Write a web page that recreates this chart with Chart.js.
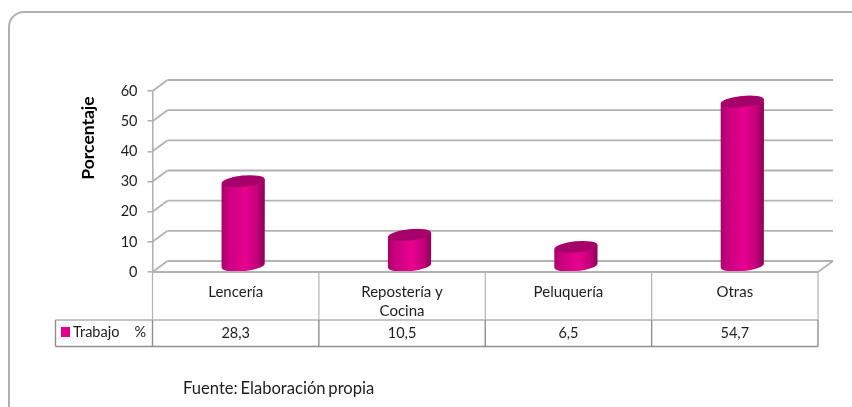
<!DOCTYPE html>
<html lang="es">
<head>
<meta charset="utf-8">
<style>
  html, body { margin: 0; padding: 0; background: #fff; overflow: hidden; }
  #wrap { position: relative; width: 852px; height: 407px; overflow: hidden; }
  #frame { position: absolute; left: 8px; top: 11px; width: 900px; height: 430px; box-sizing: border-box;
    border: 2px solid #b0b0b0; border-radius: 16px 0 0 0; }
  #c { position: absolute; left: 0; top: 0; }
</style>
</head>
<body>
<div id="wrap">
  <div id="frame"></div>
  <canvas id="c" width="852" height="407"></canvas>
</div>
<script src="https://cdn.jsdelivr.net/npm/chart.js@4"></script>
<script>
'use strict';

const categories = ['Lencería', ['Repostería y', 'Cocina'], 'Peluquería', 'Otras'];
const values = [28.3, 10.5, 6.5, 54.7];
const tableLabels = ['28,3', '10,5', '6,5', '54,7'];
const seriesName = 'Trabajo';
const seriesUnit = '%';
const axisTitle = 'Porcentaje';
const sourceNote = 'Fuente: Elaboración propia';

const FONT = 'Lato, "Open Sans", sans-serif';
const GRID = '#b2b2b2';
const TABLE = '#8f8f8f';
const TEXT = '#1e1e1e';
const PINK = '#e0008c';
const DX = 15, DY = 11;       // depth of the 3d box
const BAR_DX = 7.5, BAR_DY = 5.5; // bars stand in the middle of that depth
const ROW_TOP = 320, ROW_BOTTOM = 346.5, ROW_LEFT = 55.5;

const line = (ctx, x1, y1, x2, y2) => {
  ctx.beginPath();
  ctx.moveTo(x1, y1);
  ctx.lineTo(x2, y2);
  ctx.stroke();
};

// ---------- 3d walls ----------
const wallPlugin = {
  id: 'walls',
  beforeDatasetsDraw(chart) {
    const { ctx, chartArea: a, scales: { y } } = chart;
    ctx.save();
    ctx.strokeStyle = GRID;
    ctx.lineWidth = 1.8;
    y.ticks.forEach((t) => {
      const py = y.getPixelForValue(t.value);
      line(ctx, a.left, py, a.left + DX, py - DY);
      line(ctx, a.left + DX, py - DY, a.right + DX, py - DY);
    });
    line(ctx, a.right, a.bottom, a.right + DX, a.bottom - DY);
    ctx.restore();
  },
};

// ---------- cylinders, read from the bar elements ----------
const cylinderPlugin = {
  id: 'cylinders',
  afterDatasetsDraw(chart) {
    const { ctx } = chart;
    chart.getDatasetMeta(0).data.forEach((bar) => {
      const w = bar.width;
      const left = bar.x - w / 2 + BAR_DX;
      const right = left + w;
      const cx = left + w / 2;
      const top = bar.y - BAR_DY;
      const bottom = bar.base - BAR_DY;
      const rx = w / 2, ry = 5.6, tilt = -0.1;
      const grad = ctx.createLinearGradient(left, 0, right, 0);
      grad.addColorStop(0, '#a8006a');
      grad.addColorStop(0.15, '#c8007e');
      grad.addColorStop(0.55, '#e8008f');
      grad.addColorStop(0.82, '#c4007a');
      grad.addColorStop(1, '#8a0056');
      ctx.save();
      ctx.fillStyle = grad;
      ctx.beginPath();
      ctx.moveTo(left, top + 2);
      ctx.lineTo(left, bottom + 2);
      ctx.ellipse(cx, bottom, rx, ry, tilt, Math.PI, 0, true);
      ctx.lineTo(right, top - 2);
      ctx.closePath();
      ctx.fill();
      ctx.fillStyle = '#a6006a';
      ctx.beginPath();
      ctx.ellipse(cx, top, rx, ry, tilt, 0, Math.PI * 2);
      ctx.fill();
      ctx.restore();
    });
  },
};

// ---------- data table and the loose texts ----------
const tablePlugin = {
  id: 'dataTable',
  afterDraw(chart) {
    const { ctx, chartArea: a, scales: { x } } = chart;
    const step = (a.right - a.left) / categories.length;
    ctx.save();
    ctx.strokeStyle = GRID;
    ctx.lineWidth = 1.2;
    for (let i = 0; i <= categories.length; i++) {
      const px = a.left + step * i;
      line(ctx, px, a.bottom, px, ROW_TOP);
    }
    ctx.lineWidth = 2;
    line(ctx, a.left, a.bottom, a.right, a.bottom);

    ctx.strokeStyle = GRID;
    ctx.lineWidth = 1.6;
    line(ctx, ROW_LEFT, ROW_TOP, a.right, ROW_TOP);
    ctx.strokeStyle = TABLE;
    ctx.lineWidth = 1.4;
    line(ctx, ROW_LEFT, ROW_BOTTOM, a.right, ROW_BOTTOM);
    line(ctx, ROW_LEFT, ROW_TOP, ROW_LEFT, ROW_BOTTOM);
    for (let i = 0; i <= categories.length; i++) {
      const px = a.left + step * i;
      line(ctx, px, ROW_TOP, px, ROW_BOTTOM);
    }

    ctx.fillStyle = PINK;
    ctx.fillRect(61, 327, 9, 10);

    ctx.fillStyle = TEXT;
    ctx.font = `14.5px ${FONT}`;
    ctx.textBaseline = 'middle';
    ctx.textAlign = 'left';
    ctx.fillText(seriesName, 73, 332);
    ctx.textAlign = 'right';
    ctx.fillText(seriesUnit, 146, 332);
    ctx.textAlign = 'center';
    tableLabels.forEach((t, i) => ctx.fillText(t, x.getPixelForValue(i), 333));

    ctx.textAlign = 'left';
    ctx.font = `16.6px ${FONT}`;
    ctx.wordSpacing = '-1.5px';
    ctx.fillText(sourceNote, 183, 389);
    ctx.wordSpacing = '0px';

    ctx.save();
    ctx.translate(88, 138);
    ctx.rotate(-Math.PI / 2);
    ctx.textAlign = 'center';
    ctx.fillStyle = '#000';
    ctx.font = `bold 17.5px ${FONT}`;
    ctx.fillText(axisTitle, 0, 0);
    ctx.restore();
    ctx.restore();
  },
};

new Chart(document.getElementById('c').getContext('2d'), {
  type: 'bar',
  data: {
    labels: categories,
    datasets: [{
      label: seriesName,
      data: values,
      backgroundColor: 'transparent',
      categoryPercentage: 1,
      barPercentage: 0.26,
    }],
  },
  options: {
    responsive: false,
    animation: false,
    layout: { padding: { left: 92, right: 34, top: 91, bottom: 87 } },
    plugins: { legend: { display: false }, tooltip: { enabled: false } },
    scales: {
      x: {
        afterFit: (s) => { s.height = 48; },
        grid: { display: false },
        border: { display: false },
        ticks: { color: TEXT, padding: 2, maxRotation: 0, font: { family: FONT, size: 15, lineHeight: 1.3 } },
      },
      y: {
        min: 0,
        max: 60,
        afterFit: (s) => { s.width = 60.5; },
        grid: { drawOnChartArea: false, color: GRID, tickLength: 5, lineWidth: 1.6 },
        border: { color: GRID, width: 1.6 },
        ticks: { stepSize: 10, color: TEXT, padding: 10, font: { family: FONT, size: 14.5 } },
      },
    },
  },
  plugins: [wallPlugin, cylinderPlugin, tablePlugin],
});
</script>
</body>
</html>
